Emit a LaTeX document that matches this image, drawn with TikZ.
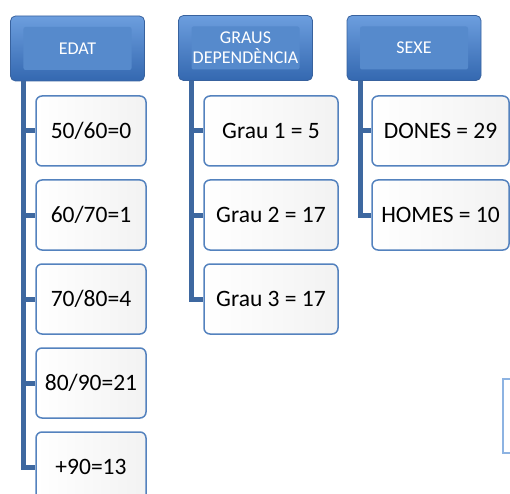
\documentclass[tikz,border=0pt]{standalone}
\usepackage{fontspec}
\setmainfont{Carlito}
\usepackage{tikz}
\definecolor{headtop}{RGB}{108,158,222}
\definecolor{headbottom}{RGB}{52,104,176}
\definecolor{headedge}{RGB}{56,98,158}
\definecolor{panelblue}{RGB}{86,138,204}
\definecolor{boxedge}{RGB}{84,130,190}
\definecolor{linkblue}{RGB}{62,104,160}
\definecolor{faintblue}{RGB}{141,179,226}

\begin{document}
\begin{tikzpicture}[x=1bp,y=-1bp]
  \tikzset{HeadStyle/.style = {
    shape          = rectangle,
    rounded corners = 5bp,
    draw           = headedge,
    line width     = 0.8bp,
    top color      = headtop,
    bottom color   = headbottom,
    text           = white,
    font           = \fontsize{18bp}{20bp}\selectfont,
    align          = center,
    inner sep      = 0pt,
    minimum width  = 134bp,
    minimum height = 65bp,
    path picture   = {\fill[panelblue, rounded corners=2bp]
      ([shift={(13bp,-11bp)}]path picture bounding box.north west) rectangle
      ([shift={(-13bp,11bp)}]path picture bounding box.south east);}
    }
  }
  \tikzset{ItemStyle/.style = {
    shape          = rectangle,
    rounded corners = 6bp,
    draw           = boxedge,
    line width     = 1.5bp,
    left color     = white,
    right color    = black!5,
    text           = black,
    font           = \fontsize{23.5bp}{26bp}\selectfont,
    inner sep      = 0pt,
    minimum height = 70bp
    }
  }
  \tikzset{LinkStyle/.style = {
    draw       = linkblue,
    line width = 5bp
    }
  }

  \useasboundingbox (0,0) rectangle (510,494);

  % headers
	\node[HeadStyle](E0) at (77.5, 48.5) {EDAT};
	\node[HeadStyle](G0) at (245.5, 48) {GRAUS\\DEPENDÈNCIA};
	\node[HeadStyle](S0) at (414, 48) {SEXE};

  % EDAT
	\node[ItemStyle, minimum width=110bp](E1) at (91, 131) {50/60=0};
	\node[ItemStyle, minimum width=110bp](E2) at (91, 215) {60/70=1};
	\node[ItemStyle, minimum width=110bp](E3) at (91, 299) {70/80=4};
	\node[ItemStyle, minimum width=110bp](E4) at (91, 383) {80/90=21};
	\node[ItemStyle, minimum width=110bp](E5) at (91, 467) {+90=13};

  % GRAUS
	\node[ItemStyle, minimum width=134bp](G1) at (271, 131) {Grau 1 = 5};
	\node[ItemStyle, minimum width=134bp](G2) at (271, 215) {Grau 2 = 17};
	\node[ItemStyle, minimum width=134bp](G3) at (271, 299) {Grau 3 = 17};

  % SEXE
	\node[ItemStyle, minimum width=137bp](S1) at (440.5, 131) {DONES = 29};
	\node[ItemStyle, minimum width=137bp](S2) at (440.5, 215) {HOMES = 10};

	\node[draw=faintblue, line width=2bp, minimum width=80bp, minimum height=74bp](X1) at (543, 416) {};

	\foreach \i in {1,...,5}
	  \draw[LinkStyle]([xshift=13.5bp]E0.south west) |- (E\i.west);
	\foreach \i in {1,...,3}
	  \draw[LinkStyle]([xshift=13.5bp]G0.south west) |- (G\i.west);
	\foreach \i in {1,2}
	  \draw[LinkStyle]([xshift=13.5bp]S0.south west) |- (S\i.west);

\end{tikzpicture}
\end{document}
